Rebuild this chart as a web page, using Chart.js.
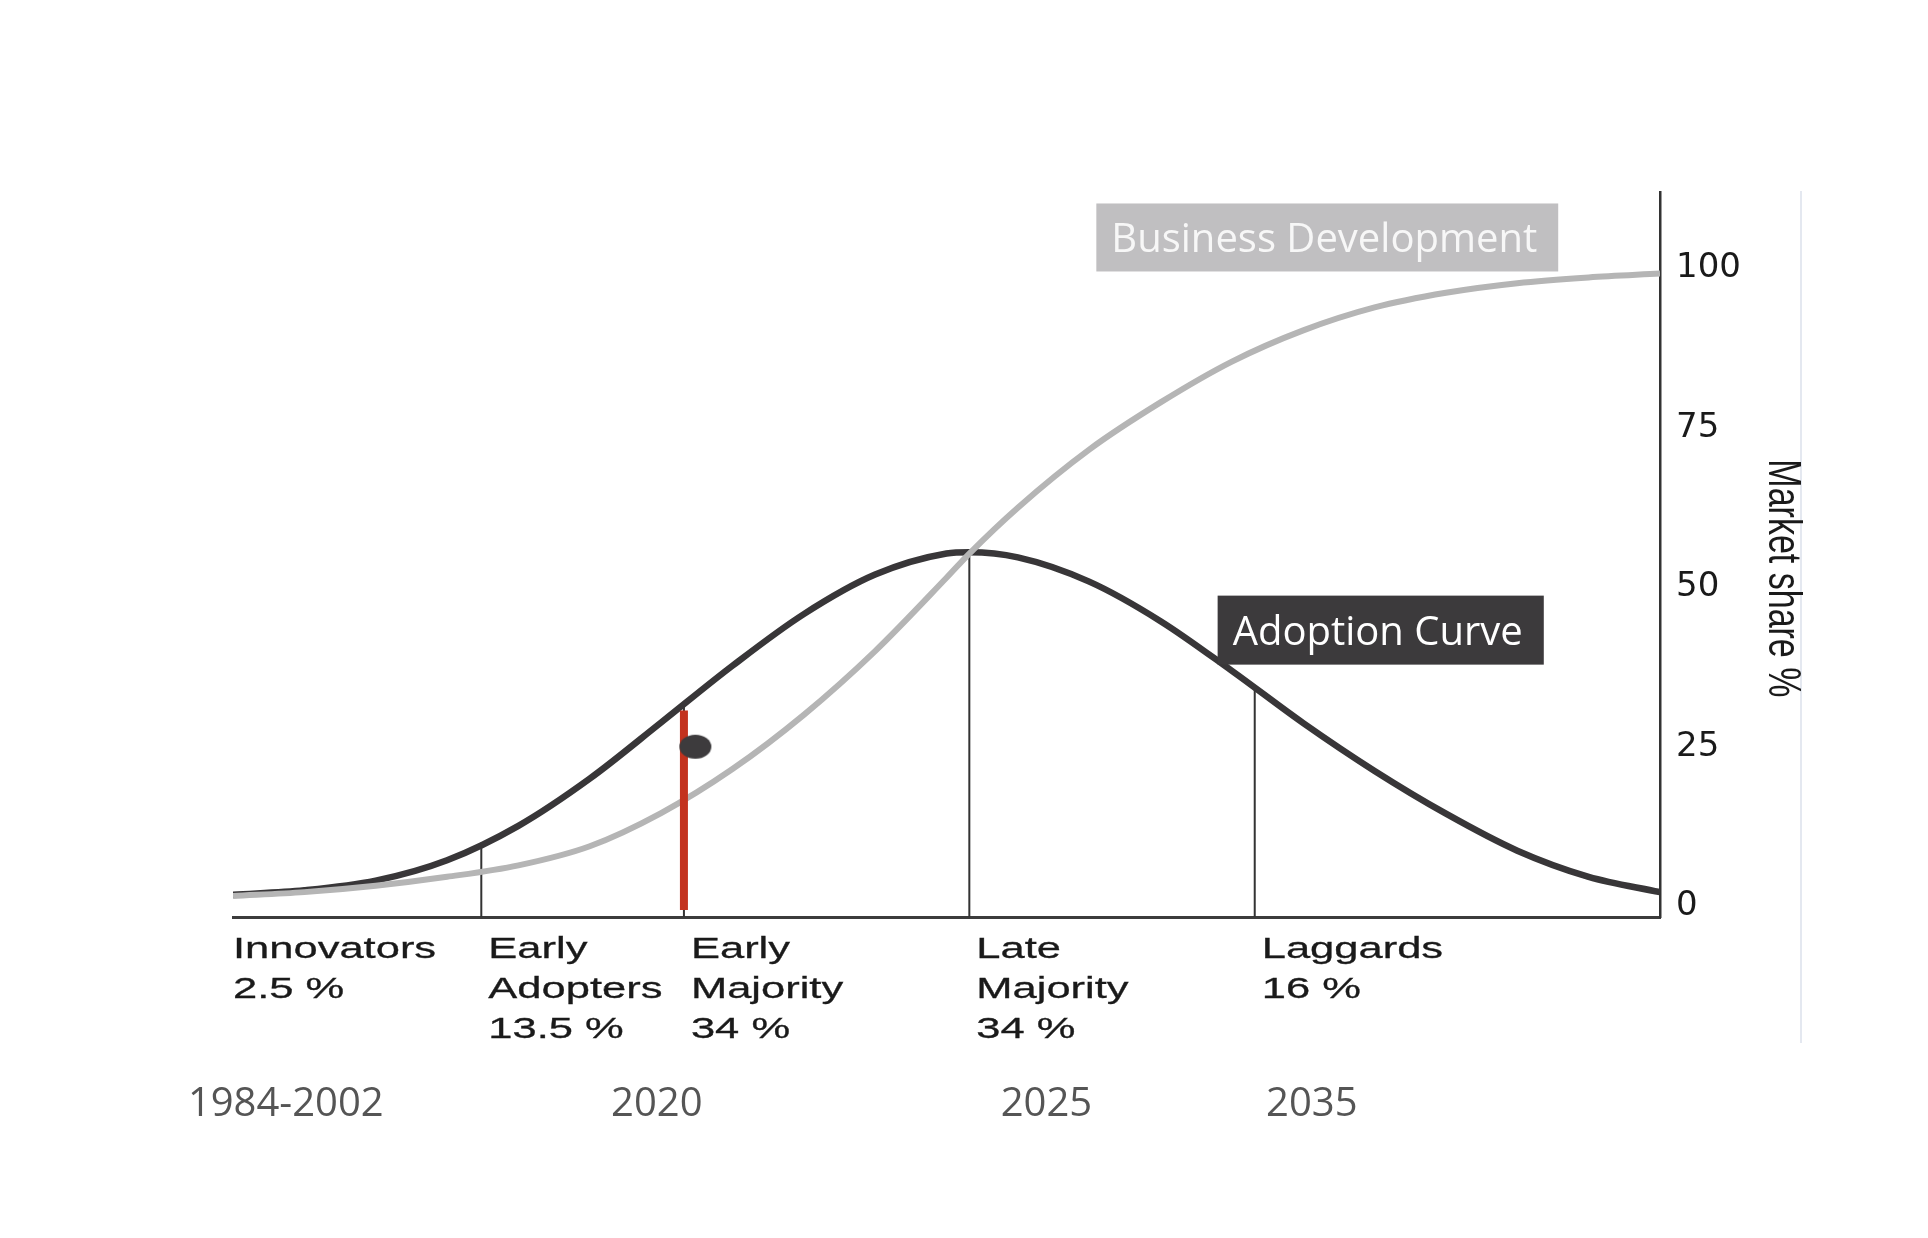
<!DOCTYPE html>
<html>
<head>
<meta charset="utf-8">
<script src="https://cdn.jsdelivr.net/npm/chart.js@4"></script>
<style>
  html, body { margin: 0; padding: 0; background: #ffffff; }
  #wrap { width: 1928px; height: 1238px; position: relative; }
</style>
</head>
<body>
<div id="wrap"><canvas id="c"></canvas></div>
<script>
// ---- data ----
const shareX = [0, 5, 10, 15, 20, 25, 30, 35, 40, 45, 50, 51.6, 55, 60, 65, 70, 75, 80, 85, 90, 95, 100];
const adoptionCurve = [1.8, 2.5, 4.0, 7.2, 12.6, 20.0, 28.8, 37.7, 45.8, 52.0, 55.3, 55.5, 54.7, 50.9, 44.7, 36.9, 28.7, 21.2, 14.5, 8.7, 4.6, 2.2];
const businessDevelopment = [1.6, 2.2, 3.2, 4.6, 6.4, 9.4, 14.6, 21.5, 30.0, 40.0, 51.5, 55.3, 62.5, 71.6, 79.0, 85.4, 90.3, 93.9, 96.2, 97.7, 98.6, 99.2];
const segmentStart = [0, 17.4, 31.6, 51.6, 71.6];
const segmentTop = [null, 10.0, 31.8, 55.5, 33.9];
const segmentNames = [
  ['Innovators', '2.5 %'],
  ['Early', 'Adopters', '13.5 %'],
  ['Early', 'Majority', '34 %'],
  ['Late', 'Majority', '34 %'],
  ['Laggards', '16 %']
];
const markerX = 31.6;
const markerRange = [-0.6, 30.7];
const todayPoint = { x: 32.4, y: 25 };
const years = ['1984-2002', '2020', '2025', '2035'];
const yearX = [3.7, 29.7, 57.0, 75.6];
const yTicks = [0, 25, 50, 75, 100];
const yMin = -1.7, yMax = 112;
const axisTitle = 'Market share %';
const seriesNames = ['Business Development', 'Adoption Curve'];

// ---- build datasets ----
const businessData = shareX.map((x, i) => ({ x, y: businessDevelopment[i] }));
const adoptionData = shareX.map((x, i) => ({ x, y: adoptionCurve[i] }));
const dividerData = [];
for (let i = 1; i < segmentStart.length; i++) {
  dividerData.push({ x: segmentStart[i], y: yMin });
  dividerData.push({ x: segmentStart[i], y: segmentTop[i] });
  dividerData.push({ x: segmentStart[i], y: null });
}
const markerData = [{ x: markerX, y: markerRange[0] }, { x: markerX, y: markerRange[1] }];

const dotImg = document.createElement('canvas');
dotImg.width = 34; dotImg.height = 26;
(function () {
  const g = dotImg.getContext('2d');
  g.fillStyle = '#3d3b3d';
  g.beginPath();
  g.ellipse(17, 13, 16, 12, 0, 0, Math.PI * 2);
  g.fill();
})();

const overlay = {
  id: 'overlay',
  afterDraw(chart) {
    const ctx = chart.ctx;
    const xs = chart.scales.x, ys = chart.scales.y;
    const area = chart.chartArea;
    ctx.save();

    // faint slide edge line
    ctx.strokeStyle = '#e4e8f0';
    ctx.lineWidth = 2;
    ctx.beginPath();
    ctx.moveTo(area.right + 141, area.top - 1);
    ctx.lineTo(area.right + 141, area.bottom + 126);
    ctx.stroke();

    // segment labels (stretched Arial-like)
    ctx.fillStyle = '#1a1a1a';
    ctx.strokeStyle = '#1a1a1a';
    ctx.lineWidth = 0.3;
    ctx.font = '30px "Liberation Sans"';
    ctx.textAlign = 'left';
    ctx.textBaseline = 'alphabetic';
    segmentNames.forEach((lines, i) => {
      const x = xs.getPixelForValue(segmentStart[i]) + (i ? 7 : 0);
      lines.forEach((t, j) => {
        ctx.save();
        ctx.translate(x, area.bottom + 41 + j * 40);
        ctx.scale(1.45, 1);
        ctx.fillText(t, 0, 0);
        ctx.strokeText(t, 0, 0);
        ctx.restore();
      });
    });

    // axis title
    ctx.save();
    ctx.font = '34px "Liberation Sans"';
    ctx.textAlign = 'center';
    ctx.textBaseline = 'middle';
    ctx.translate(area.right + 122, ys.getPixelForValue(51.4));
    ctx.rotate(Math.PI / 2);
    ctx.scale(1, 1.37);
    ctx.fillText(axisTitle, 0, 0);
    ctx.restore();

    // years
    ctx.fillStyle = '#555555';
    ctx.font = '40px "Open Sans"';
    ctx.textAlign = 'center';
    years.forEach((t, i) => {
      ctx.fillText(t, xs.getPixelForValue(yearX[i]), area.bottom + 199);
    });

    // labelled boxes
    function box(text, xv, yv, fill, color, h) {
      const x = xs.getPixelForValue(xv), y = ys.getPixelForValue(yv);
      ctx.font = '40px "Open Sans"';
      ctx.textAlign = 'left';
      ctx.textBaseline = 'alphabetic';
      const w = ctx.measureText(text).width;
      ctx.fillStyle = fill;
      ctx.fillRect(x, y, w + 36, h);
      ctx.fillStyle = color;
      ctx.fillText(text, x + 15, y + 49);
    }
    box(seriesNames[0], 60.5, 110.2, '#c0bfc1', '#f7f7f7', 68);
    box(seriesNames[1], 69.0, 48.7, '#3c3a3c', '#ffffff', 69);
    ctx.restore();
  }
};

new Chart(document.getElementById('c'), {
  data: {
    datasets: [
      { type: 'line', label: seriesNames[0], data: businessData, borderColor: '#b5b5b5', borderWidth: 6,
        pointRadius: 0, cubicInterpolationMode: 'monotone', fill: false, order: 1 },
      { type: 'line', label: seriesNames[1], data: adoptionData, borderColor: '#383638', borderWidth: 6.5,
        pointRadius: 0, cubicInterpolationMode: 'monotone', fill: false, order: 2 },
      { type: 'line', label: 'segments', data: dividerData, borderColor: '#333333', borderWidth: 2,
        pointRadius: 0, tension: 0, spanGaps: false, fill: false, order: 3 },
      { type: 'line', label: 'today', data: markerData, borderColor: '#c3321e', borderWidth: 8,
        borderCapStyle: 'butt', pointRadius: 0, tension: 0, fill: false, order: 0 },
      { type: 'scatter', label: 'position', data: [todayPoint], pointStyle: dotImg, pointRadius: 14, order: -1 }
    ]
  },
  options: {
    responsive: true,
    maintainAspectRatio: false,
    animation: false,
    layout: { padding: { left: 233, top: 192, bottom: 321, right: 0 } },
    plugins: { legend: { display: false }, tooltip: { enabled: false } },
    scales: {
      x: {
        type: 'linear', min: 0, max: 100,
        ticks: { display: false },
        grid: { display: true, drawOnChartArea: false, drawTicks: false },
        border: { display: true, color: '#3c3c3c', width: 3 },
        afterFit(s) { s.height = 0; }
      },
      y: {
        type: 'linear', position: 'right', min: yMin, max: yMax,
        afterBuildTicks(s) { s.ticks = yTicks.map(v => ({ value: v })); },
        ticks: { font: { family: 'DejaVu Sans', size: 34 }, color: '#1a1a1a', padding: 16 },
        grid: { display: true, drawOnChartArea: false, drawTicks: false },
        border: { display: true, color: '#333333', width: 2.5 },
        afterFit(s) { s.width = 268; }
      }
    }
  },
  plugins: [overlay]
});
</script>
</body>
</html>
